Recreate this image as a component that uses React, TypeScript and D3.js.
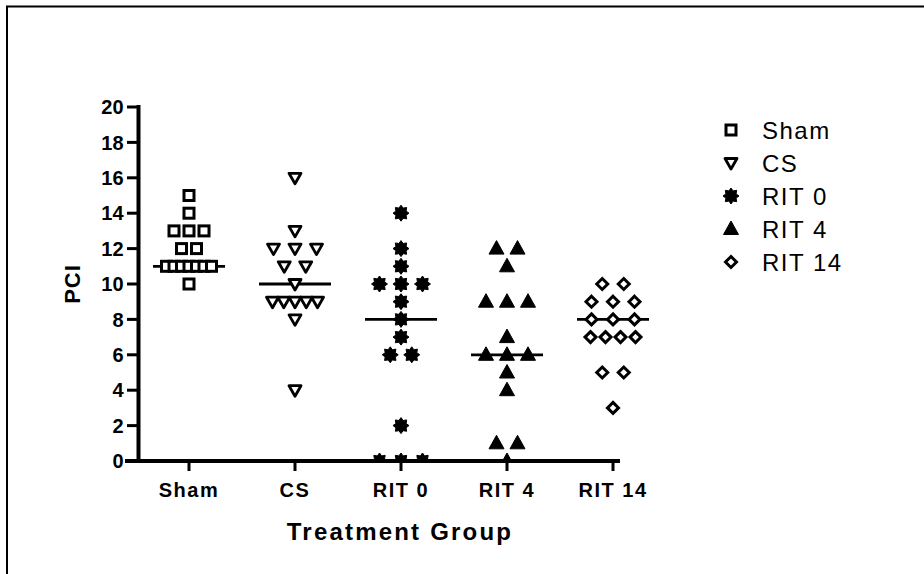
import React from "react";
import * as d3 from "d3";

// PCI scores per treatment group
const groups = ["Sham", "CS", "RIT 0", "RIT 4", "RIT 14"];
const sham = [15, 14, 13, 13, 13, 12, 12, 11, 11, 11, 11, 11, 11, 11, 10];
const cs = [16, 13, 12, 12, 12, 11, 11, 10, 9, 9, 9, 9, 9, 8, 4];
const rit0 = [14, 12, 11, 10, 10, 10, 9, 8, 7, 6, 6, 2, 0, 0, 0];
const rit4 = [12, 12, 11, 9, 9, 9, 7, 6, 6, 6, 5, 4, 1, 1, 0];
const rit14 = [10, 10, 9, 9, 9, 8, 8, 8, 7, 7, 7, 7, 5, 5, 3];
const yTicks = [0, 2, 4, 6, 8, 10, 12, 14, 16, 18, 20];

const seriesValues = [sham, cs, rit0, rit4, rit14];

const W = 924;
const H = 574;
const FONT = "'Liberation Sans', Arial, Helvetica, sans-serif";

const x = d3.scalePoint<string>().domain(groups).range([189, 613]);
const y = d3.scaleLinear().domain([0, 20]).range([461, 107]);

type Kind = "square" | "triDown" | "star" | "triUp" | "diamond";
const kinds: Kind[] = ["square", "triDown", "star", "triUp", "diamond"];
const stepPx: Record<Kind, number> = { square: 15, triDown: 21.5, star: 21.5, triUp: 21, diamond: 21.5 };
const MAX_ROW = 45;

function starPoints(ro: number, ri: number, n: number) {
  const pts: string[] = [];
  for (let i = 0; i < n * 2; i++) {
    const a = (i * Math.PI) / n - Math.PI / 2;
    const r = i % 2 === 0 ? ro : ri;
    pts.push(`${(r * Math.cos(a)).toFixed(2)},${(r * Math.sin(a)).toFixed(2)}`);
  }
  return pts.join(" ");
}

function Marker({ kind, cx, cy }: { kind: Kind; cx: number; cy: number }) {
  const t = `translate(${cx},${cy})`;
  switch (kind) {
    case "square":
      return <rect transform={t} x={-5} y={-5} width={10} height={10} fill="#fff" stroke="#000" strokeWidth={3} />;
    case "triDown":
      return <polygon transform={t} points="-6,-4.5 6,-4.5 0,6" fill="#fff" stroke="#000" strokeWidth={2.8} strokeLinejoin="round" />;
    case "star":
      return <polygon transform={t} points={starPoints(8, 5.5, 8)} fill="#000" stroke="#000" strokeWidth={1} />;
    case "triUp":
      return <polygon transform={t} points="0,-8 7.5,5.5 -7.5,5.5" fill="#000" stroke="#000" strokeWidth={1} strokeLinejoin="round" />;
    case "diamond":
      return <polygon transform={t} points="0,-5.5 5.5,0 0,5.5 -5.5,0" fill="#fff" stroke="#000" strokeWidth={3} />;
  }
}

// spread equal values horizontally in symmetric rows
function layout(values: number[], kind: Kind) {
  const counts = d3.rollup(values, (v) => v.length, (v) => v);
  const seen = new Map<number, number>();
  return values.map((v) => {
    const k = counts.get(v) || 1;
    const i = seen.get(v) || 0;
    seen.set(v, i + 1);
    const step = k > 1 ? Math.min(stepPx[kind], MAX_ROW / (k - 1)) : 0;
    return { v, dx: (i - (k - 1) / 2) * step };
  });
}

export default function App() {
  const y0 = y(0);
  return (
    <svg width={W} height={H} style={{ position: "absolute", left: 0, top: 0, background: "#fff" }} fontFamily={FONT}>
      <defs>
        <clipPath id="plotClip">
          <rect x={139} y={60} width={560} height={y0 - 60} />
        </clipPath>
      </defs>
      <rect x={0} y={0} width={W} height={H} fill="#fff" />
      {/* frame */}
      <path d={`M7,${H + 5} V6.5 H${W + 5}`} fill="none" stroke="#000" strokeWidth={2} />

      {/* medians and points */}
      <g clipPath="url(#plotClip)">
        {groups.map((g, gi) => {
          const med = d3.median(seriesValues[gi]) as number;
          const cx = x(g) as number;
          return <line key={"m" + g} x1={cx - 36} x2={cx + 36} y1={y(med)} y2={y(med)} stroke="#000" strokeWidth={2.8} />;
        })}
        {groups.map((g, gi) => {
          const cx = x(g) as number;
          const kind = kinds[gi];
          return (
            <g key={"p" + g}>
              {layout(seriesValues[gi], kind).map((p, i) => (
                <Marker key={i} kind={kind} cx={cx + p.dx} cy={y(p.v)} />
              ))}
            </g>
          );
        })}
      </g>

      {/* y axis */}
      <line x1={138.5} x2={138.5} y1={y(20) - 2} y2={y0 + 2} stroke="#000" strokeWidth={4} />
      {yTicks.map((t) => (
        <g key={"yt" + t}>
          <line x1={127} x2={138.5} y1={y(t)} y2={y(t)} stroke="#000" strokeWidth={3} />
          <text x={124} y={y(t)} dy="0.36em" textAnchor="end" fontSize={20} fontWeight="bold" letterSpacing={0.3}>
            {t}
          </text>
        </g>
      ))}
      <text transform={`translate(80,284) rotate(-90)`} textAnchor="middle" fontSize={22} fontWeight="bold" letterSpacing={1}>
        PCI
      </text>

      {/* x axis */}
      <line x1={125} x2={620} y1={y0} y2={y0} stroke="#000" strokeWidth={4} />
      {groups.map((g) => (
        <g key={"xt" + g}>
          <line x1={x(g)} x2={x(g)} y1={y0} y2={y0 + 10} stroke="#000" strokeWidth={3} />
          <text x={x(g)} y={497} textAnchor="middle" fontSize={20} fontWeight="bold" letterSpacing={1.5}>
            {g}
          </text>
        </g>
      ))}
      <text x={400} y={540} textAnchor="middle" fontSize={24} fontWeight="bold" letterSpacing={2.2}>
        Treatment Group
      </text>

      {/* legend */}
      {groups.map((g, gi) => {
        const ly = 130 + gi * 33;
        return (
          <g key={"lg" + g}>
            <Marker kind={kinds[gi]} cx={731} cy={ly} />
            <text x={762} y={ly} dy="0.36em" fontSize={24} letterSpacing={1.5}>
              {g}
            </text>
          </g>
        );
      })}
    </svg>
  );
}
